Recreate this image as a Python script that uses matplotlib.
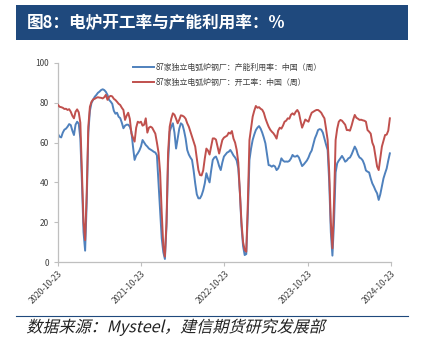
import numpy as np
import pandas as pd
import matplotlib
matplotlib.use("Agg")
import matplotlib.pyplot as plt
import matplotlib.transforms as mtransforms
from matplotlib.patches import Rectangle, PathPatch
from matplotlib.lines import Line2D
from matplotlib.textpath import TextPath
from matplotlib.font_manager import FontProperties

plt.rcParams['font.family'] = ['Noto Sans CJK SC', 'DejaVu Sans']

TITLE = "图8：电炉开工率与产能利用率：%"
SOURCE = "数据来源：Mysteel，建信期货研究发展部"
LABEL_UTIL = "87家独立电弧炉钢厂：产能利用率：中国（周）"
LABEL_RUN = "87家独立电弧炉钢厂：开工率：中国（周）"
TICK_DATES = ["2020-10-23", "2021-10-23", "2022-10-23", "2023-10-23", "2024-10-23"]

# weekly, starting 2020-10-23
utilization = [
    64.3, 63.0, 62.6, 65.0, 66.5, 67.0, 68.0, 69.3, 68.8, 66.0,
    63.8, 69.0, 70.5, 69.5, 62.0, 40.0, 15.0, 5.7, 30.0, 65.0,
    76.0, 80.0, 81.5, 83.0, 83.9, 85.0, 85.6, 86.4, 86.8, 86.4,
    85.5, 84.0, 81.5, 80.6, 79.5, 76.0, 74.5, 75.0, 73.0, 72.3,
    70.0, 67.2, 68.5, 69.0, 69.0, 68.0, 65.5, 58.0, 51.3, 53.5,
    54.6, 56.0, 58.0, 61.3, 60.0, 58.8, 58.0, 57.0, 56.5, 56.0,
    55.4, 55.0, 53.6, 39.7, 25.0, 12.0, 5.0, 1.5, 18.0, 50.0,
    65.5, 68.0, 69.7, 65.0, 57.0, 62.0, 67.0, 69.7, 69.0, 66.0,
    62.0, 56.3, 54.0, 52.5, 51.3, 46.0, 39.5, 34.0, 32.0, 32.0,
    33.5, 36.0, 39.5, 44.6, 42.0, 40.0, 46.0, 51.3, 52.5, 53.0,
    51.0, 48.2, 46.2, 50.0, 53.0, 54.0, 55.0, 55.4, 56.3, 55.0,
    53.5, 52.5, 51.0, 47.0, 35.0, 18.0, 8.0, 3.5, 4.0, 25.0,
    51.3, 57.0, 61.3, 64.0, 66.3, 67.5, 68.3, 67.0, 65.0, 62.5,
    59.6, 54.0, 48.7, 48.5, 47.9, 48.5, 48.0, 46.2, 47.0, 49.0,
    52.1, 51.0, 50.4, 50.5, 50.4, 50.8, 52.0, 53.8, 53.0, 53.0,
    53.5, 52.5, 50.4, 48.2, 49.0, 50.0, 51.0, 52.5, 54.6, 56.0,
    59.0, 62.1, 64.0, 66.3, 66.8, 66.5, 65.0, 62.0, 59.0, 56.3,
    40.0, 15.0, 3.2, 20.0, 45.0, 49.6, 51.0, 52.1, 53.3, 52.0,
    50.4, 51.0, 52.1, 52.5, 54.0, 56.0, 58.0, 56.5, 54.0, 52.5,
    52.0, 51.0, 49.0, 46.0, 45.4, 45.0, 42.0, 39.5, 37.9, 36.0,
    34.5, 31.2, 34.0, 38.0, 42.0, 44.6, 47.0, 51.0, 54.6,
]

operating = [
    78.9, 78.0, 77.8, 77.5, 76.9, 77.0, 76.4, 76.8, 75.5, 73.5,
    72.2, 75.5, 76.7, 75.2, 70.0, 45.0, 20.0, 11.0, 35.0, 68.0,
    78.0, 80.5, 81.7, 82.0, 82.5, 82.8, 82.6, 82.5, 82.2, 82.8,
    84.0, 81.5, 83.0, 83.5, 83.2, 82.0, 81.4, 80.5, 79.5, 78.9,
    77.5, 76.4, 71.4, 73.5, 75.0, 72.0, 64.7, 62.5, 60.5, 67.5,
    70.5, 70.0, 70.5, 68.5, 69.0, 72.2, 65.0, 67.5, 68.0, 67.5,
    66.0, 64.5, 60.0, 55.0, 45.0, 25.0, 8.0, 2.7, 20.0, 55.0,
    68.0, 72.0, 74.7, 74.0, 72.0, 69.7, 71.5, 73.7, 73.5, 73.0,
    72.0, 69.7, 68.0, 65.5, 63.0, 60.5, 58.0, 52.0, 46.2, 43.7,
    43.5, 46.0, 52.0, 57.0, 56.0, 54.0, 58.0, 62.1, 62.1, 61.5,
    58.0, 54.5, 58.0, 61.3, 62.5, 63.0, 63.5, 65.0, 64.5, 65.8,
    62.0, 60.0, 56.3, 50.0, 35.0, 20.0, 10.0, 6.0, 5.2, 30.0,
    61.3, 67.0, 73.0, 76.0, 78.4, 77.5, 77.8, 77.0, 76.5, 75.0,
    72.2, 70.0, 68.0, 66.5, 65.5, 64.7, 63.5, 62.0, 66.0, 67.5,
    67.0, 68.5, 70.5, 71.0, 72.2, 72.0, 74.0, 74.7, 74.0, 75.5,
    76.4, 75.0, 71.0, 67.5, 69.5, 71.6, 71.0, 70.5, 73.0, 75.0,
    75.5, 76.0, 76.4, 76.4, 75.8, 75.0, 73.5, 72.2, 67.0, 61.3,
    45.0, 20.0, 6.9, 30.0, 61.3, 67.0, 70.5, 71.4, 71.0, 70.0,
    69.0, 66.3, 66.3, 66.0, 68.5, 71.5, 73.9, 72.5, 72.0, 71.4,
    71.5, 71.2, 71.0, 70.5, 66.3, 65.5, 64.5, 60.0, 58.0, 52.9,
    48.0, 46.2, 52.0, 58.0, 61.0, 63.8, 64.0, 66.0, 72.2,
]

dates = pd.date_range("2020-10-23", periods=len(utilization), freq="7D")
tick_dates = pd.to_datetime(TICK_DATES)

fig = plt.figure(figsize=(4.22, 3.47), dpi=100)

# title bar
fig.patches.append(Rectangle((16 / 422, 1 - 40 / 347), 392 / 422, 35 / 347,
                             transform=fig.transFigure, facecolor="#1F497D",
                             edgecolor="none", zorder=0))
fig.text(27 / 422, 1 - 23 / 347, TITLE, color="white", fontsize=12,
         fontweight="bold", va="center", ha="left")

ax = fig.add_axes([58 / 422, 1 - 262 / 347, 333 / 422, 199 / 347])
ax.plot(dates, operating, color="#C0504D", lw=1.4, zorder=3)
ax.plot(dates, utilization, color="#4F81BD", lw=1.4, zorder=2)

ax.set_ylim(0, 100)
ax.set_yticks(np.arange(0, 101, 20))
ax.set_xlim(tick_dates[0], tick_dates[-1])
ax.set_xticks(tick_dates)
ax.set_xticklabels(TICK_DATES, rotation=45, ha="right", rotation_mode="anchor")
ax.tick_params(axis="both", labelsize=6, colors="#BFBFBF", labelcolor="#404040",
               length=3, width=0.8)
ax.tick_params(axis="x", pad=2)
for s in ["top", "right"]:
    ax.spines[s].set_visible(False)
for s in ["left", "bottom"]:
    ax.spines[s].set_color("#BFBFBF")
    ax.spines[s].set_linewidth(0.9)

handles = [Line2D([], [], color="#4F81BD", lw=1.4),
           Line2D([], [], color="#C0504D", lw=1.4)]
ax.legend(handles, [LABEL_UTIL, LABEL_RUN], loc="upper left",
          bbox_to_anchor=(0.205, 1.035), frameon=False, fontsize=5.7,
          handlelength=2.6, handletextpad=0.15, labelspacing=0.75,
          labelcolor="#404040")

# separator line and source
fig.add_artist(Line2D([16 / 422, 408 / 422], [1 - 316 / 347, 1 - 316 / 347],
                      transform=fig.transFigure, color="#1F497D", lw=0.8))

# slanted source text (the CJK font has no italic face)
tp = TextPath((0, 0), SOURCE, size=10, prop=FontProperties(family="Noto Sans CJK SC"))
ext = tp.get_extents()
k = (323 - 26) / 100 / ext.width  # inches per path unit
tr = (mtransforms.Affine2D().translate(-ext.x0, -ext.y0).skew_deg(14, 0)
      .scale(k).translate(26 / 100, (347 - 336) / 100) + fig.dpi_scale_trans)
fig.patches.append(PathPatch(tp, transform=tr, facecolor="#222222",
                             edgecolor="none", lw=0))

fig.savefig("out.png", dpi=100)
